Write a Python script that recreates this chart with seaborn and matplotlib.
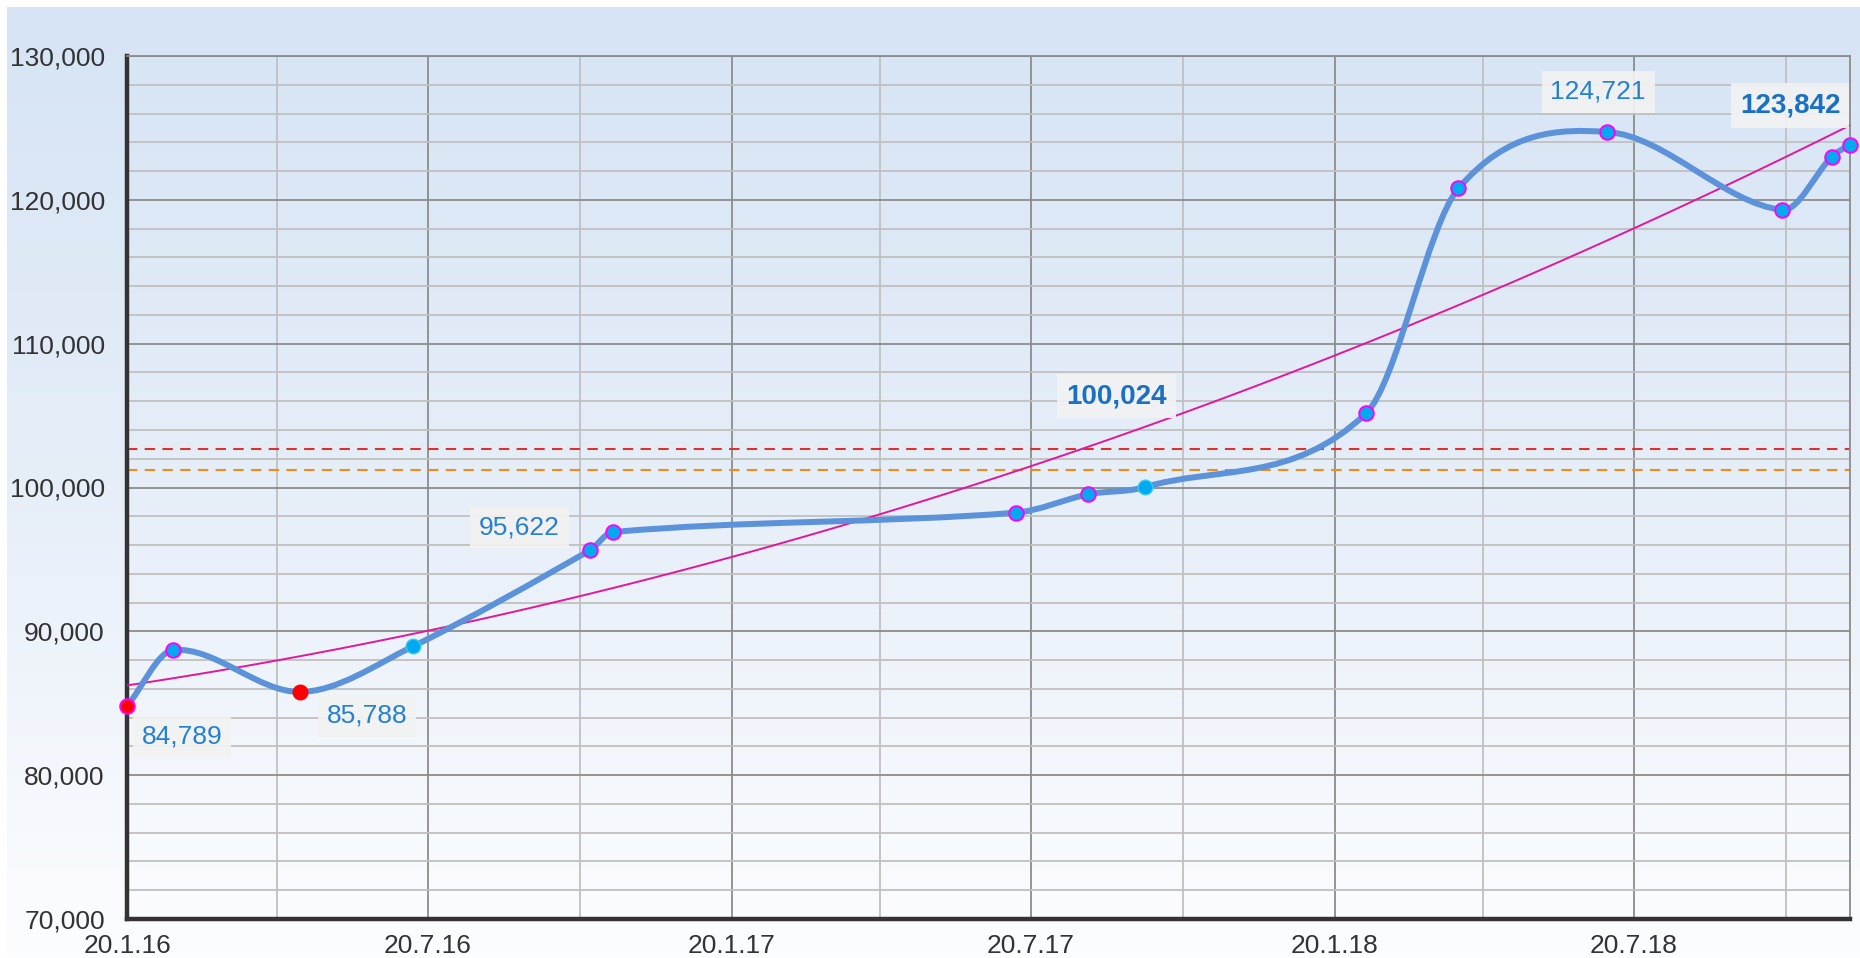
import matplotlib

matplotlib.use("Agg")
import matplotlib.dates as mdates
import matplotlib.pyplot as plt
import numpy as np
import pandas as pd
import seaborn as sns
from matplotlib.colors import LinearSegmentedColormap
from matplotlib.patches import PathPatch
from matplotlib.path import Path
from matplotlib.ticker import FixedLocator, FuncFormatter

# price points
point_dates = pd.to_datetime([
    "2016-01-20", "2016-02-17", "2016-05-04", "2016-07-11", "2016-10-26",
    "2016-11-09", "2017-07-11", "2017-08-24", "2017-09-27", "2018-02-08",
    "2018-04-05", "2018-07-04", "2018-10-18", "2018-11-17", "2018-11-28",
])
point_values = [
    84789, 88700, 85788, 88950, 95622,
    96900, 98250, 99530, 100024, 105150,
    120800, 124721, 119300, 123000, 123842,
]
point_kind = [
    "low", "normal", "dip", "plain", "normal",
    "normal", "normal", "normal", "plain", "normal",
    "normal", "normal", "normal", "normal", "normal",
]

# labelled points (index into the arrays above), bold ones
label_index = [0, 2, 4, 8, 11, 14]
bold_index = [8, 14]

# trend curve (drawn as a 2nd order fit)
trend_dates = pd.to_datetime([
    "2016-01-20", "2016-07-03", "2017-01-01", "2017-07-01",
    "2017-12-29", "2018-04-13", "2018-08-28", "2018-11-28",
])
trend_values = [86230, 89680, 94548, 100689, 108143, 113185, 120138, 125095]

# horizontal reference levels
ref_levels = [102700, 101200]

major_dates = pd.to_datetime([
    "2016-01-20", "2016-07-20", "2017-01-20", "2017-07-20", "2018-01-20", "2018-07-20",
])
minor_dates = pd.to_datetime([
    "2016-04-20", "2016-10-20", "2017-04-20", "2017-10-20", "2018-04-20", "2018-10-20",
])
y_ticks = [70000, 80000, 90000, 100000, 110000, 120000, 130000]

LINE_BLUE = "#5b92da"
CYAN = "#00aaee"
MAGENTA = "#ff00ff"
LABEL_BLUE = "#2680d0"

sns.set_theme(style="white")
plt.rcParams["font.family"] = ["Liberation Sans", "DejaVu Sans"]

fig = plt.figure(figsize=(18.6, 9.58), dpi=100, facecolor="white")

# background gradient
bg = fig.add_axes([7 / 1860, 0, 1 - 7 / 1860, 1 - 7 / 958], zorder=-5)
grad_cmap = LinearSegmentedColormap.from_list("bg", ["#fcfdff", "#e6eef8", "#d6e4f5"])
bg.imshow(np.linspace(0, 1, 256).reshape(-1, 1)[::-1], aspect="auto", cmap=grad_cmap,
          extent=[0, 1, 0, 1])
bg.axis("off")

ax = fig.add_axes([127 / 1860, 39 / 958, (1850 - 127) / 1860, (919 - 56) / 958])
ax.set_facecolor("none")

x = mdates.date2num(point_dates)
y = np.asarray(point_values, dtype=float)

# grid
ax.xaxis.set_major_locator(FixedLocator(mdates.date2num(major_dates)))
ax.xaxis.set_minor_locator(FixedLocator(mdates.date2num(minor_dates)))
ax.yaxis.set_major_locator(FixedLocator(y_ticks))
ax.yaxis.set_minor_locator(FixedLocator(np.arange(70000, 130001, 2000)))
ax.grid(which="minor", color="#c0c0c0", linewidth=1.3, zorder=0)
ax.grid(which="major", color="#8c8c8c", linewidth=1.3, zorder=0)
ax.set_axisbelow(True)

# reference levels
for level, color in zip(ref_levels, ["#d9342b", "#f08c1e"]):
    ax.axhline(level, color=color, linewidth=1.5, dashes=(5, 3.5), zorder=2)

# trend curve
trend_df = pd.DataFrame({"date": mdates.date2num(trend_dates), "value": trend_values})
sns.regplot(data=trend_df, x="date", y="value", order=2, ci=None, scatter=False,
            truncate=True, ax=ax, line_kws=dict(color="#e0189c", linewidth=1.4, zorder=3))

# smoothed price line: cubic bezier segments through the points
n = len(x)
slope = np.empty(n)
slope[0] = (y[1] - y[0]) / (x[1] - x[0])
slope[-1] = (y[-1] - y[-2]) / (x[-1] - x[-2])
slope[1:-1] = (y[2:] - y[:-2]) / (x[2:] - x[:-2])
verts = [(x[0], y[0])]
codes = [Path.MOVETO]
for i in range(n - 1):
    dx = (x[i + 1] - x[i]) / 3
    verts += [(x[i] + dx, y[i] + slope[i] * dx),
              (x[i + 1] - dx, y[i + 1] - slope[i + 1] * dx),
              (x[i + 1], y[i + 1])]
    codes += [Path.CURVE4] * 3
ax.add_patch(PathPatch(Path(verts, codes), facecolor="none", edgecolor=LINE_BLUE,
                       linewidth=4.3, capstyle="round", joinstyle="round", zorder=4))

# markers
points = pd.DataFrame({"date": x, "value": y, "kind": point_kind})
marker_style = {
    "normal": dict(color=CYAN, edgecolor=MAGENTA, linewidth=1.4),
    "low": dict(color="#ff0000", edgecolor=MAGENTA, linewidth=1.4),
    "dip": dict(color="#ff0000", edgecolor="#ff0000", linewidth=1.0),
    "plain": dict(color=CYAN, edgecolor="#33ccf5", linewidth=1.0),
}
for kind, style in marker_style.items():
    sub = points[points["kind"] == kind]
    sns.scatterplot(data=sub, x="date", y="value", s=110, ax=ax, zorder=5,
                    clip_on=False, legend=False, **style)

ax.set_xlim(x[0], x[-1])
ax.set_ylim(70000, 130000)

ax.xaxis.set_major_formatter(FuncFormatter(
    lambda v, _: (lambda d: f"{d.day}.{d.month}.{d:%y}")(mdates.num2date(v))))
ax.yaxis.set_major_formatter(FuncFormatter(lambda v, _: f"{int(v):,}"))
ax.tick_params(axis="both", which="major", labelsize=19, labelcolor="#333333",
               color="#333333", length=6, width=2.2)
ax.tick_params(axis="y", which="major", pad=10)
ax.tick_params(axis="x", which="major", pad=4.5)
ax.tick_params(which="minor", length=0)

for side in ("left", "bottom"):
    ax.spines[side].set_color("#333333")
    ax.spines[side].set_linewidth(3.2)
for side in ("top", "right"):
    ax.spines[side].set_color("#8c8c8c")
    ax.spines[side].set_linewidth(1.3)

# value labels
label_offsets = {0: (55, -30), 2: (67, -24), 4: (-70, 23), 8: (-28, 91),
                 11: (-9, 40), 14: (-60, 39)}
for i in label_index:
    bold = i in bold_index
    ax.annotate(f"{point_values[i]:,}", (x[i], y[i]), xytext=label_offsets[i],
                textcoords="offset pixels", ha="center", va="center",
                fontsize=20 if bold else 19, color="#1a70c4" if bold else LABEL_BLUE,
                fontweight="bold" if bold else "normal", zorder=6,
                annotation_clip=False,
                bbox=dict(boxstyle="square,pad=0.33", facecolor="#f2f2f2",
                          edgecolor="none", alpha=0.92))

ax.set_xlabel("")
ax.set_ylabel("")

fig.savefig("out.png", dpi=100, facecolor="white")
